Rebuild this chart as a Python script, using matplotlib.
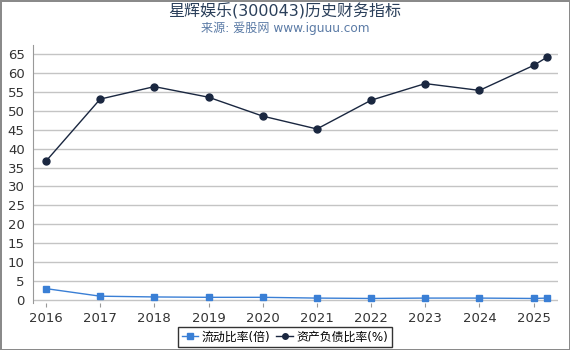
import matplotlib.pyplot as plt

plt.rcParams['font.family'] = ['DejaVu Sans', 'Noto Sans CJK SC']

years = [2016, 2017, 2018, 2019, 2020, 2021, 2022, 2023, 2024, 2025, 2025.25]
xtick_years = [2016, 2017, 2018, 2019, 2020, 2021, 2022, 2023, 2024, 2025]
current_ratio = [3.0, 1.0, 0.8, 0.7, 0.7, 0.5, 0.4, 0.5, 0.5, 0.4, 0.5]
debt_ratio = [36.7, 53.1, 56.4, 53.6, 48.6, 45.2, 52.8, 57.2, 55.4, 62.0, 64.2]

fig = plt.figure(figsize=(5.7, 3.5), dpi=100)
fig.patch.set_edgecolor('#8a8a8a')
fig.patch.set_linewidth(2)
ax = fig.add_axes([33 / 570, 1 - 303 / 350, (558 - 33) / 570, (303 - 45) / 350])

ax.plot(years, current_ratio, color='#3a7fd5', marker='s', markersize=5,
        linewidth=1, label='流动比率(倍)')
ax.plot(years, debt_ratio, color='#1a2740', marker='o', markersize=5,
        linewidth=1, label='资产负债比率(%)')

ax.set_xlim(2015.76, 2025.45)
ax.set_ylim(-0.8, 67.4)
ax.set_yticks(range(0, 70, 5))
ax.set_xticks(xtick_years)
ax.yaxis.grid(True, color='#c4c4c4', linewidth=1)
ax.set_axisbelow(True)
for s in ['top', 'right']:
    ax.spines[s].set_visible(False)
ax.spines['left'].set_color('#999999')
ax.spines['bottom'].set_visible(False)
ax.tick_params(axis='both', labelsize=9.5, colors='#333333', length=3)
ax.tick_params(axis='y', length=0, pad=6)
ax.tick_params(axis='x', color='#999999')

fig.text(0.5, 1 - 11 / 350, '星辉娱乐(300043)历史财务指标', ha='center', va='center',
         fontsize=11.5, color='#2a3f5a')
fig.text(0.5, 1 - 28.5 / 350, '来源: 爱股网 www.iguuu.com', ha='center', va='center',
         fontsize=8.7, color='#5b7ba6')

leg = fig.legend(loc='center', bbox_to_anchor=(0.5, 1 - 337 / 350), ncol=2, fontsize=8.6,
                 frameon=True, fancybox=False, edgecolor='black', handlelength=1.4,
                 handletextpad=0.3, columnspacing=0.5, borderpad=0.3, markerscale=0.8)
leg.get_frame().set_linewidth(1)

fig.savefig('out.png', dpi=100, edgecolor=fig.get_edgecolor())
